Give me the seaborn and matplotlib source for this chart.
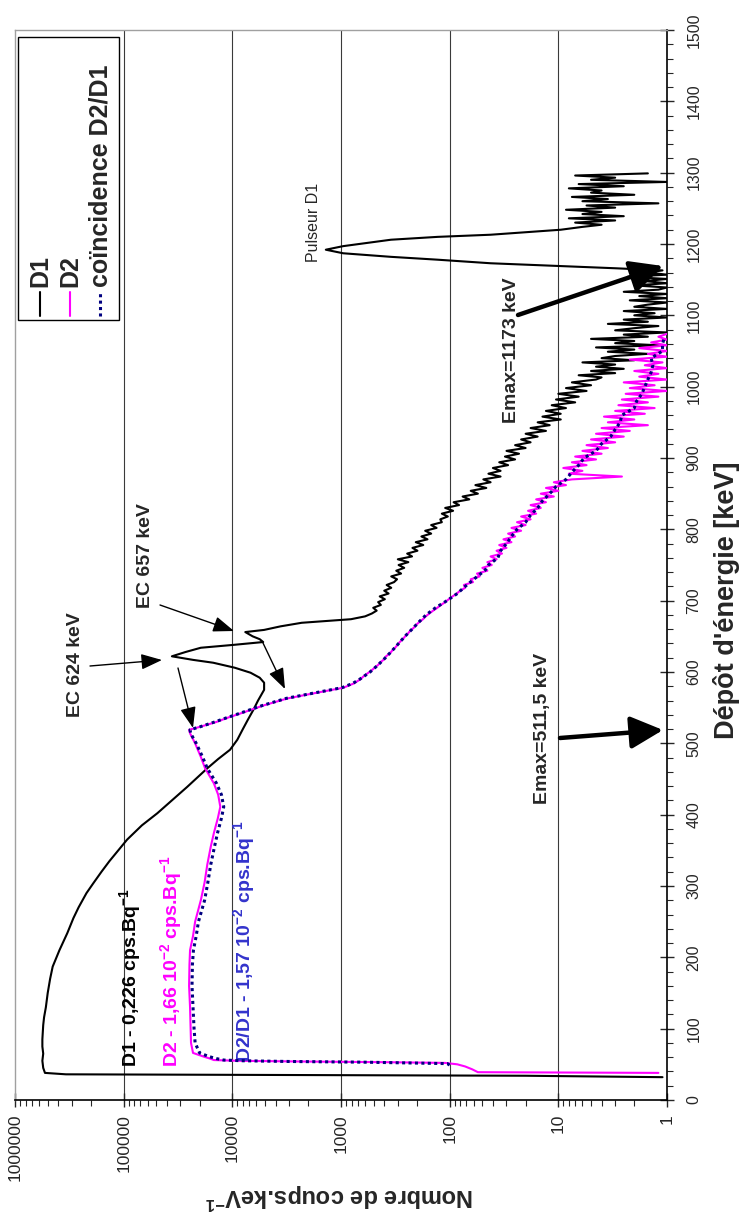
import numpy as np
import matplotlib
matplotlib.use("Agg")
import matplotlib.pyplot as plt
import seaborn as sns
from matplotlib.ticker import FixedLocator, FuncFormatter, LogLocator, MultipleLocator, NullFormatter
from matplotlib.patches import Rectangle

# ---------------------------------------------------------------- data
# D1 spectrum (counts per keV vs deposited energy in keV)
d1_energy_head = [32, 34, 35, 36, 38, 45, 55, 65, 75, 85, 95, 105, 116, 130, 150,
                  170, 187, 210, 234, 255, 270, 290, 304, 320, 335, 350, 365, 385, 402, 420,
                  439, 452, 465, 478, 491, 505, 520, 533, 547, 560, 575, 585, 592, 599, 606,
                  613, 617, 622, 628, 634, 638, 642, 646, 650, 656, 659, 664, 669, 674, 678]
d1_counts_head = [1.1, 20, 2000, 340000, 530000, 550000, 560000, 550000, 560000, 560000,
                  555000, 550000, 540000, 520000, 500000, 475000, 450000, 390000, 330000, 290000,
                  260000, 220000, 190000, 160000, 135000, 112000, 93000, 68000, 49000, 36000,
                  26000, 21000, 17000, 13500, 10500, 9000, 8000, 7200, 6400, 5800,
                  5100, 5100, 5600, 6800, 9500, 15000, 23000, 36000, 27000, 19500,
                  9800, 5200, 5600, 6500, 7600, 5100, 3600, 2300, 810, 600]
d1_energy_tail = list(range(682, 1011, 4))
d1_counts_tail = [520, 470, 505, 430, 455, 395, 440, 365, 400, 345,
                  380, 325, 305, 345, 280, 310, 262, 295, 240, 300,
                  222, 246, 198, 220, 175, 205, 160, 182, 148, 168,
                  132, 148, 118, 122, 104, 118, 93, 110, 82, 92,
                  66, 76, 55, 64, 46, 58, 42, 49, 34, 44,
                  34, 40, 29, 35, 25, 31, 23, 30, 20, 25,
                  18, 22, 15.5, 20, 13, 18, 12, 15.5, 9.5, 14,
                  9.5, 13, 8.5, 11.5, 7, 10.5, 6.5, 10, 5.5, 8.5,
                  5, 7.5, 4.5]
d1_energy_low = list(range(1013, 1164, 3))
d1_counts_low = [4, 6.5, 3, 5, 2.5, 4.5, 3, 6, 2, 4,
                 3, 1.5, 3.5, 2, 4.5, 1.2, 3, 2, 5, 1.5,
                 2.5, 1, 3, 2, 1.2, 3.5, 1.5, 2.5, 1, 2,
                 1.3, 2.5, 1, 2, 1.5, 1, 2.2, 1, 1.8, 1,
                 2.5, 1.2, 1, 2, 1, 1.6, 1, 2.3, 1, 1.5,
                 1.1]
d1_energy_pulser = [1166, 1169, 1173, 1178, 1182, 1187, 1192, 1197, 1206, 1210, 1213, 1220, 1224]
d1_counts_pulser = [3, 9.5, 42, 129, 347, 955, 1380, 955, 347, 129, 42, 9.5, 6]
d1_energy_end = list(range(1227, 1302, 3))
d1_counts_end = [4, 7, 3, 8, 2.5, 6, 4, 8.5, 3, 5.5,
                 1.2, 6, 3.5, 7.5, 2, 5, 4, 8, 2.5, 6.5,
                 1, 5, 3, 7, 1.5]

# D2 spectrum
d2_energy_head = [38, 39, 43, 47, 50, 52, 53, 54, 55, 56, 58, 61, 66, 80, 100,
                  130, 160, 190, 210, 230, 250, 280, 305, 330, 355, 374, 395, 411, 428, 444,
                  465, 481, 500, 514, 519, 523, 530, 536, 543, 553, 563, 570, 578, 584, 590]
d2_counts_head = [1.2, 55, 62, 72, 85, 110, 400, 2500, 9000, 14800,
                  16000, 18500, 23000, 24000, 24200, 24500, 25000, 24800, 24500, 23000,
                  22000, 19500, 18000, 17000, 15800, 14800, 13600, 12900, 13500, 14800,
                  17800, 19500, 22000, 24500, 25000, 20000, 14000, 11000, 8000, 5200,
                  3100, 1800, 950, 760, 660]
d2_energy_tail = list(range(594, 1075, 4))
d2_counts_tail = [620, 570, 525, 490, 455, 430, 400, 385, 355, 338,
                  318, 302, 288, 270, 257, 242, 230, 214, 204, 190,
                  176, 166, 154, 142, 130, 120, 110, 102, 94, 86,
                  80, 72, 74, 61, 64, 53, 56, 45, 50, 41,
                  45, 37, 42, 33, 37, 30, 35, 27, 32, 25,
                  29, 22, 27, 20, 24, 18, 22, 16, 19, 14.5,
                  18, 13, 16, 11, 14.5, 10, 13, 8.5, 11, 7.5,
                  2.6, 8, 6, 9, 5.5, 7.5, 4.5, 7, 4, 6,
                  3.5, 5.5, 3, 5, 2.5, 4.5, 2.2, 4, 1.5, 3.5,
                  2, 3.8, 1.6, 3, 1.3, 2.8, 1.5, 2.6, 1.2, 2.4,
                  1, 2.2, 1.3, 2.5, 1, 1.8, 1.2, 2, 1, 1.6,
                  1.1, 2.2, 1, 1.5, 1, 1.8, 1, 1.4, 1, 1.2,
                  1]

# D2/D1 coincidence spectrum
coinc_energy = [49, 51, 53, 54, 55, 56, 58, 61, 66, 80, 100, 130, 160, 190, 210,
                230, 250, 280, 305, 330, 355, 374, 395, 411, 428, 444, 465, 481, 500, 514,
                519, 523, 530, 536, 543, 553, 563, 570, 578, 584, 590, 600, 610, 620, 630,
                640, 650, 660, 670, 680, 690, 700, 710, 720, 730, 743, 750, 760, 770, 780,
                790, 800, 810, 820, 830, 840, 850, 860, 870, 880, 890, 900, 910, 920, 930,
                940, 950, 960, 970, 980, 990, 1000, 1010, 1020, 1030, 1040, 1050, 1060, 1070]
coinc_counts = [100, 105, 600, 3000, 8000, 12000, 14000, 16500, 20000, 22000,
                22500, 23000, 23500, 23300, 22800, 21500, 20500, 18000, 16800, 15800,
                14600, 13700, 12600, 12000, 12600, 14000, 17000, 18800, 21500, 24200,
                24500, 20000, 14500, 11200, 8200, 5300, 3200, 1850, 980, 780,
                670, 540, 455, 390, 338, 295, 258, 222, 192, 165,
                135, 106, 85, 72, 60, 47, 44, 36, 34, 30,
                27, 24, 20, 18, 15.5, 14, 12, 10.5, 8.5, 7.5,
                6.5, 5.8, 4.5, 4, 3.3, 3, 2.7, 2.6, 2.0, 1.9,
                1.7, 1.6, 1.5, 1.4, 1.35, 1.4, 1.1, 1.1, 1.05]

energy_ticks = list(range(0, 1501, 100))
count_ticks = [1e6, 1e5, 1e4, 1e3, 1e2, 1e1, 1]

d1_energy = d1_energy_head + d1_energy_tail + d1_energy_low + d1_energy_pulser + d1_energy_end
d1_counts = d1_counts_head + d1_counts_tail + d1_counts_low + d1_counts_pulser + d1_counts_end
d2_energy = d2_energy_head + d2_energy_tail
d2_counts = d2_counts_head + d2_counts_tail
assert len(d1_energy) == len(d1_counts)
assert len(d2_energy) == len(d2_counts)
assert len(coinc_energy) == len(coinc_counts)

# ---------------------------------------------------------------- style
sns.set_style("white")
plt.rcParams["font.family"] = ["Liberation Sans", "DejaVu Sans"]
plt.rcParams["mathtext.fontset"] = "custom"
plt.rcParams["mathtext.rm"] = "Liberation Sans"
plt.rcParams["mathtext.bf"] = "Liberation Sans:bold"
plt.rcParams["mathtext.it"] = "Liberation Sans:italic"

W, H = 743, 1218
fig = plt.figure(figsize=(W / 100, H / 100), dpi=100)
L, R, T, B = 15, 667, 30, 1100
ax = fig.add_axes([L / W, (H - B) / H, (R - L) / W, (B - T) / H])
ax.set_xscale("log")

# decade grid lines (the chart is drawn turned a quarter turn: energy runs upward)
for c in count_ticks[1:-1]:
    ax.axvline(c, color="#3a3a3a", lw=0.8, zorder=0)

sns.lineplot(x=d1_counts, y=d1_energy, orient="y", sort=False, estimator=None,
             color="black", lw=1.5, ax=ax, zorder=3)
sns.lineplot(x=d2_counts, y=d2_energy, orient="y", sort=False, estimator=None,
             color="#ff00ff", lw=1.5, ax=ax, zorder=3)
sns.lineplot(x=coinc_counts, y=coinc_energy, orient="y", sort=False, estimator=None,
             color="#000080", lw=2.2, ax=ax, zorder=4, dashes=False)
ax.lines[-1].set_linestyle((0, (1, 1.1)))

ax.set_xlim(1e6, 1)
ax.set_ylim(0, 1500)
ax.set_xlabel("")
ax.set_ylabel("")

# count axis (bottom)
ax.xaxis.set_major_locator(FixedLocator(count_ticks))
ax.xaxis.set_major_formatter(FuncFormatter(lambda v, p: f"{v:.0f}"))
ax.xaxis.set_minor_locator(LogLocator(base=10, subs=np.arange(2, 10), numticks=20))
ax.xaxis.set_minor_formatter(NullFormatter())
ax.tick_params(axis="x", which="major", direction="inout", length=10, width=1,
               labelsize=12.5, labelrotation=90, pad=5, bottom=True)
ax.tick_params(axis="x", which="minor", direction="out", length=4, width=0.8, bottom=True)

# energy axis (right)
ax.yaxis.tick_right()
ax.yaxis.set_major_locator(FixedLocator(energy_ticks))
ax.yaxis.set_minor_locator(MultipleLocator(20))
ax.tick_params(axis="y", which="major", direction="inout", length=10, width=1,
               labelsize=11.5, labelrotation=90, pad=9, right=True, left=False)
ax.tick_params(axis="y", which="minor", direction="out", length=4, width=0.8, right=True, left=False)
for lab in ax.get_yticklabels():
    lab.set_verticalalignment("center")

for s in ("top", "left"):
    ax.spines[s].set_color("#a0a0a0")
    ax.spines[s].set_linewidth(1.0)
for s in ("right", "bottom"):
    ax.spines[s].set_color("black")
    ax.spines[s].set_linewidth(1.2)


def fx(px):
    return (px - L) / (R - L)


def fy(py):
    return (B - py) / (B - T)


# axis titles
ax.text(fx(727), fy(600), "Dépôt d'énergie [keV]", transform=ax.transAxes, rotation=90,
        ha="center", va="center", fontsize=19.5, fontweight="bold")
ax.text(fx(340), fy(1196), r"Nombre de coups.keV$^{\mathbf{-1}}$", transform=ax.transAxes,
        rotation=180, ha="center", va="center", fontsize=17, fontweight="bold")

# legend
ax.add_patch(Rectangle((fx(18), fy(320)), fx(119) - fx(18), fy(37) - fy(320),
                       transform=ax.transAxes, facecolor="white", edgecolor="black",
                       lw=1.0, zorder=6))
legend_items = [("D1", "black", "-", 40), ("D2", "#ff00ff", "-", 70),
                ("coïncidence D2/D1", "#000080", ":", 100)]
for name, col, ls, px in legend_items:
    ln, = ax.plot([fx(px), fx(px)], [fy(316), fy(292)], transform=ax.transAxes,
                  color=col, lw=2.2 if ls == ":" else 1.5, zorder=7)
    if ls == ":":
        ln.set_linestyle((0, (1, 1.1)))
    ax.text(fx(px), fy(287), name, transform=ax.transAxes, rotation=90,
            rotation_mode="anchor", ha="left", va="center", fontsize=18,
            fontweight="bold", zorder=8)

# peak annotations
ax.text(fx(75), fy(665), "EC 624 keV", transform=ax.transAxes, rotation=90,
        rotation_mode="anchor", ha="center", va="center", fontsize=14, fontweight="bold")
ax.text(fx(145), fy(556), "EC 657 keV", transform=ax.transAxes, rotation=90,
        rotation_mode="anchor", ha="center", va="center", fontsize=14, fontweight="bold")
ax.text(fx(313), fy(222), "Pulseur D1", transform=ax.transAxes, rotation=90,
        rotation_mode="anchor", ha="center", va="center", fontsize=11.5)
ax.text(fx(543), fy(728), "Emax=511,5 keV", transform=ax.transAxes, rotation=90,
        rotation_mode="anchor", ha="center", va="center", fontsize=14, fontweight="bold")
ax.text(fx(512), fy(350), "Emax=1173 keV", transform=ax.transAxes, rotation=90,
        rotation_mode="anchor", ha="center", va="center", fontsize=14, fontweight="bold")

# rates
ax.text(fx(130), fy(1067), r"D1 - 0,226 cps.Bq$^{\mathbf{-1}}$", transform=ax.transAxes,
        rotation=90, rotation_mode="anchor", ha="left", va="center", fontsize=14,
        fontweight="bold", color="black")
ax.text(fx(171), fy(1067), r"D2 - 1,66 10$^{\mathbf{-2}}$ cps.Bq$^{\mathbf{-1}}$",
        transform=ax.transAxes, rotation=90, rotation_mode="anchor", ha="left", va="center",
        fontsize=14, fontweight="bold", color="#ff00ff")
ax.text(fx(244), fy(1062), r"D2/D1 - 1,57 10$^{\mathbf{-2}}$ cps.Bq$^{\mathbf{-1}}$",
        transform=ax.transAxes, rotation=90, rotation_mode="anchor", ha="left", va="center",
        fontsize=14, fontweight="bold", color="#3333cc")


def arrow(tail, head, thick=False):
    if thick:
        props = dict(arrowstyle="-|>,head_length=0.9,head_width=0.45", color="black",
                     lw=3.2, mutation_scale=22, shrinkA=0, shrinkB=0)
    else:
        props = dict(arrowstyle="-|>,head_length=0.8,head_width=0.3", color="black",
                     lw=1.0, mutation_scale=16, shrinkA=0, shrinkB=0)
    ax.annotate("", xy=(fx(head[0]), fy(head[1])), xytext=(fx(tail[0]), fy(tail[1])),
                xycoords="axes fraction", textcoords="axes fraction", arrowprops=props,
                zorder=5)


arrow((90, 666), (162, 660))
arrow((178, 668), (193, 728))
arrow((160, 605), (234, 631))
arrow((263, 643), (285, 689))
arrow((560, 738), (663, 730), thick=True)
arrow((518, 315), (663, 266), thick=True)

fig.savefig("out.png", dpi=100)
